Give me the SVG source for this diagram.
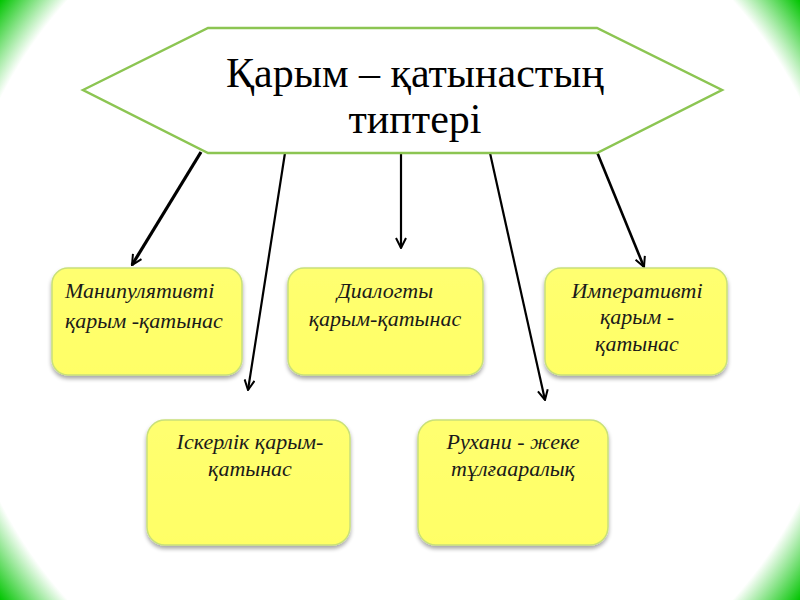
<svg xmlns="http://www.w3.org/2000/svg" width="800" height="600" viewBox="0 0 800 600">
<defs>
<radialGradient id="bg" gradientUnits="userSpaceOnUse" cx="400" cy="300" r="500">
<stop offset="0" stop-color="#ffffff"/>
<stop offset="0.895" stop-color="#ffffff"/>
<stop offset="1" stop-color="#00c400"/>
</radialGradient>
<linearGradient id="box" x1="0" y1="0" x2="0" y2="1">
<stop offset="0" stop-color="#ffff70"/>
<stop offset="1" stop-color="#ffff66"/>
</linearGradient>
<filter id="sh" x="-10%" y="-10%" width="120%" height="125%">
<feGaussianBlur in="SourceAlpha" stdDeviation="2"/>
<feOffset dx="0" dy="3" result="b"/>
<feComponentTransfer><feFuncA type="linear" slope="0.35"/></feComponentTransfer>
<feMerge><feMergeNode/><feMergeNode in="SourceGraphic"/></feMerge>
</filter>
<marker id="arr" viewBox="0 0 12 12" refX="11" refY="6" markerWidth="12" markerHeight="12" markerUnits="userSpaceOnUse" orient="auto">
<path d="M1,1 L11,6 L1,11" fill="none" stroke="#000" stroke-width="2"/>
</marker>
</defs>
<style>
.box{fill:url(#box);stroke:#c9e07a;stroke-width:1.5;filter:url(#sh)}
.t{font-family:"Liberation Serif","DejaVu Serif",serif;font-style:italic;font-size:22px;fill:#1a1a1a}
.c{stroke:#000;fill:none}
</style>
<rect width="800" height="600" fill="url(#bg)"/>
<g id="connectors">
<line class="c" x1="201" y1="152" x2="132" y2="265" stroke-width="3.2" marker-end="url(#arr)"/>
<line class="c" x1="285" y1="153" x2="248" y2="390" stroke-width="2.2" marker-end="url(#arr)"/>
<line class="c" x1="401" y1="153" x2="401" y2="248" stroke-width="2.2" marker-end="url(#arr)"/>
<line class="c" x1="490" y1="153" x2="545" y2="400" stroke-width="2.2" marker-end="url(#arr)"/>
<line class="c" x1="597" y1="152" x2="644" y2="267" stroke-width="2.6" marker-end="url(#arr)"/>
</g>
<g id="title">
<polygon points="83,90 208,28 597,28 722,90 597,153 208,153" fill="#ffffff" stroke="#8cc552" stroke-width="2.5"/>
<text x="415" y="87" text-anchor="middle" font-family="Liberation Serif, serif" font-size="42" fill="#000">Қарым – қатынастың</text>
<text x="415" y="133" text-anchor="middle" font-family="Liberation Serif, serif" font-size="42" fill="#000">типтері</text>
</g>
<g id="n1">
<rect class="box" x="52" y="268" width="190" height="107" rx="16"/>
<text class="t" x="65" y="298">Манипулятивті</text>
<text class="t" x="65" y="328">қарым -қатынас</text>
</g>
<g id="n2">
<rect class="box" x="288" y="268" width="195" height="107" rx="16"/>
<text class="t" x="385" y="298" text-anchor="middle">Диалогты</text>
<text class="t" x="385" y="326" text-anchor="middle">қарым-қатынас</text>
</g>
<g id="n3">
<rect class="box" x="545" y="268" width="182" height="107" rx="16"/>
<text class="t" x="637" y="298" text-anchor="middle">Императивті</text>
<text class="t" x="637" y="324" text-anchor="middle">қарым -</text>
<text class="t" x="637" y="351" text-anchor="middle">қатынас</text>
</g>
<g id="n4">
<rect class="box" x="147" y="420" width="203" height="125" rx="18"/>
<text class="t" x="250" y="449" text-anchor="middle">Іскерлік қарым-</text>
<text class="t" x="250" y="476" text-anchor="middle">қатынас</text>
</g>
<g id="n5">
<rect class="box" x="418" y="420" width="190" height="125" rx="18"/>
<text class="t" x="513" y="449" text-anchor="middle">Рухани - жеке</text>
<text class="t" x="513" y="476" text-anchor="middle">тұлғааралық</text>
</g>
</svg>
